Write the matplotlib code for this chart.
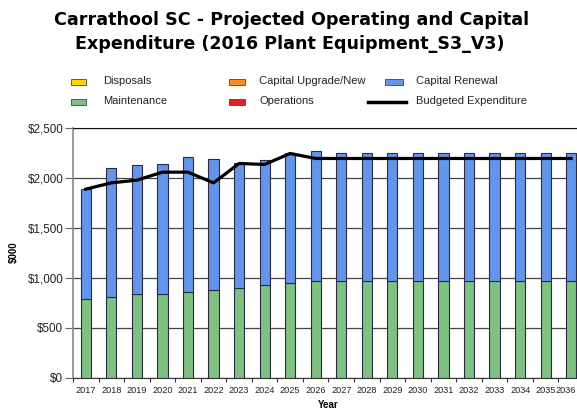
import matplotlib
matplotlib.use("Agg")
import matplotlib.pyplot as plt
from matplotlib.patches import Rectangle
from matplotlib.lines import Line2D
import matplotlib.transforms as mtrans
import numpy as np

years = [str(y) for y in range(2017, 2037)]
disposals = [0] * 20
capital_upgrade = [0] * 20
operations = [0] * 20
maintenance = [782, 805, 835, 835, 852, 875, 892, 922, 945, 968,
               968, 968, 968, 968, 968, 968, 968, 968, 968, 968]
totals = [1890, 2092, 2122, 2132, 2205, 2182, 2145, 2172, 2242, 2262,
          2242, 2242, 2242, 2242, 2242, 2242, 2242, 2242, 2242, 2242]
capital_renewal = [t - m for t, m in zip(totals, maintenance)]
budgeted = [1885, 1948, 1975, 2055, 2055, 1948, 2142, 2132, 2242, 2192,
            2192, 2192, 2192, 2192, 2192, 2192, 2192, 2192, 2192, 2192]

legend_labels = ["Disposals", "Capital Upgrade/New", "Capital Renewal",
                 "Maintenance", "Operations", "Budgeted Expenditure"]
legend_colors = ["#FFD700", "#FF8C1A", "#6495ED", "#80C080", "#DD2222", "#000000"]

yticks = [0, 500, 1000, 1500, 2000, 2500]
ytick_labels = ["$0", "$500", "$1,000", "$1,500", "$2,000", "$2,500"]

W, H = 577, 412
fig = plt.figure(figsize=(W / 100, H / 100), dpi=100)
plt.rcParams['font.family'] = ['Liberation Sans', 'DejaVu Sans']

def fx(px):
    return px / W

def fy(py):
    return 1 - py / H

ax = fig.add_axes([fx(73), fy(377.5), fx(584) - fx(73), fy(127.7) - fy(377.5)])

x = np.arange(len(years))
bw = 0.4
edge = "#2a2a40"
ax.bar(x, maintenance, bw, color="#80C080", edgecolor=edge, linewidth=0.8, zorder=3)
ax.bar(x, capital_renewal, bw, bottom=maintenance, color="#6495ED", edgecolor=edge,
       linewidth=0.8, zorder=3)
ax.plot(x, budgeted, color="black", linewidth=2.3, zorder=4)

ax.set_xlim(-0.5, len(years) - 0.5)
ax.set_ylim(0, 2500)
ax.set_yticks(yticks)
ax.set_yticklabels(ytick_labels, fontsize=8.4, color="#222222")
ax.tick_params(axis='y', length=6, width=0.8, color="#666666", pad=1)
ax.set_xticks(x)
ax.set_xticklabels(years, fontsize=6.6, color="#222222")
ax.tick_params(axis='x', which='major', length=0, pad=6)
ax.set_xticks(np.arange(-0.5, len(years)), minor=True)
ax.tick_params(axis='x', which='minor', length=3, width=0.8, color="#333333")

# keep the last (edge-clipped) year label inside the canvas
last = ax.get_xticklabels()[-1]
last.set_transform(last.get_transform() +
                   mtrans.ScaledTranslation(-6 / 100, 0, fig.dpi_scale_trans))

ax.grid(axis='y', color="#444444", linewidth=0.9, zorder=0)
ax.set_axisbelow(True)
ax.spines["right"].set_visible(False)
ax.spines["top"].set_color("#111111")
ax.spines["left"].set_color("#888888")
ax.spines["left"].set_linewidth(1.2)
ax.spines["bottom"].set_color("#333333")

fig.text(fx(14), fy(252), "$000", rotation=90, fontsize=7, fontweight='bold',
         ha='center', va='center')
fig.text(fx(328), fy(405), "Year", fontsize=7, fontweight='bold', ha='center', va='center')

fig.text(fx(292), fy(20), "Carrathool SC - Projected Operating and Capital",
         fontsize=12.6, fontweight='bold', ha='center', va='center', family='DejaVu Sans')
fig.text(fx(290), fy(44), "Expenditure (2016 Plant Equipment_S3_V3)",
         fontsize=12.6, fontweight='bold', ha='center', va='center', family='DejaVu Sans')

# legend
cols_patch = [(71, 86), (229, 245), (385, 403)]
cols_text = [103, 259, 416]
rows_y = [81.5, 101.5]
for i, (lab, col) in enumerate(zip(legend_labels, legend_colors)):
    r, c = divmod(i, 3)
    yc = rows_y[r]
    x0, x1 = cols_patch[c]
    if lab == "Budgeted Expenditure":
        fig.add_artist(Line2D([fx(368), fx(406)], [fy(yc), fy(yc)], color=col,
                              linewidth=2.5, transform=fig.transFigure))
    else:
        fig.add_artist(Rectangle((fx(x0), fy(yc + 3)), fx(x1) - fx(x0), fy(yc - 3) - fy(yc + 3),
                                 facecolor=col, edgecolor="#444444", linewidth=0.6,
                                 transform=fig.transFigure))
    fig.text(fx(cols_text[c]), fy(yc), lab, fontsize=8, ha='left', va='center',
             color="#222222")

fig.savefig("out.png", dpi=100)
